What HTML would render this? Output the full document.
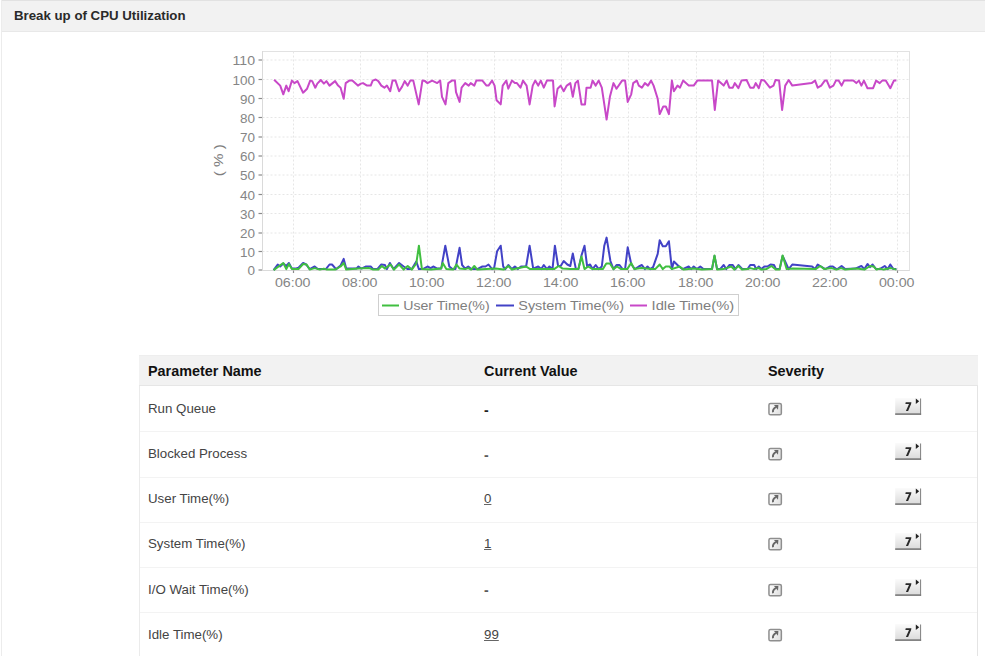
<!DOCTYPE html>
<html><head><meta charset="utf-8"><style>
html,body{margin:0;padding:0;background:#fff;}
body{width:985px;height:656px;position:relative;overflow:hidden;font-family:"Liberation Sans",sans-serif;}
.hdr{position:absolute;left:1px;top:0;width:984px;height:31px;background:#f2f2f2;border-top:1px solid #e2e2e2;border-bottom:1px solid #e8e8e8;box-sizing:border-box;height:32px;}
.lb{position:absolute;left:1px;top:0;width:1px;height:656px;background:#ececec;}
.title{position:absolute;left:14px;top:8px;font-weight:bold;font-size:13.25px;color:#2a2a2a;white-space:nowrap;}
svg.chart{position:absolute;left:0;top:0;}
.chart text{font-family:"Liberation Mono",monospace;font-size:12px;fill:#747474;}
.chart text.lg{font-family:"Liberation Sans",sans-serif;font-size:12.5px;fill:#7e7e7e;}
.chart text.ax{font-family:"Liberation Sans",sans-serif;font-size:12.2px;fill:#858585;}
.tbl{position:absolute;left:139px;top:355px;width:839px;height:301px;border-left:1px solid #ebebeb;border-right:1px solid #e4e4e4;box-sizing:border-box;}
.th{position:absolute;left:139px;top:355px;width:839px;height:31px;background:#f2f2f2;border-top:1px solid #eeeeee;border-bottom:1px solid #e6e6e6;box-sizing:border-box;}
.th span{position:absolute;top:7px;font-weight:bold;font-size:14.4px;color:#111;white-space:nowrap;}
.row{position:absolute;left:139px;width:839px;height:45px;}
.sep{position:absolute;left:140px;width:837px;height:1px;background:#f3f3f3;}
.row span{position:absolute;white-space:nowrap;}
.c1{left:9px;top:15px;font-size:13.3px;color:#444;}
.c2{left:345px;top:15px;font-size:13.3px;color:#444;}
.c2 .d{font-weight:bold;color:#222;font-size:14px;position:relative;top:0.6px;}
.c2 .d2{color:#5a5a5a;font-weight:bold;font-size:14px;position:relative;top:0.8px;}
.c2 .u{text-decoration:underline;text-decoration-color:#666;}
.c3{left:628px;top:15px;line-height:0;}
.c4{left:756px;top:12px;line-height:0;}
</style></head><body>
<div class="hdr"></div>
<div class="lb"></div>
<div class="title">Break up of CPU Utilization</div>
<svg class="chart" width="985" height="340" viewBox="0 0 985 340">
<rect x="262.5" y="51.5" width="647" height="219" fill="#fff" stroke="#e2e2e2" stroke-width="1"/>
<g stroke="#e6e6e6" stroke-width="1" stroke-dasharray="2,2"><line x1="262.5" y1="251.5" x2="909" y2="251.5"/><line x1="262.5" y1="233.0" x2="909" y2="233.0"/><line x1="262.5" y1="213.5" x2="909" y2="213.5"/><line x1="262.5" y1="194.5" x2="909" y2="194.5"/><line x1="262.5" y1="175.0" x2="909" y2="175.0"/><line x1="262.5" y1="156.0" x2="909" y2="156.0"/><line x1="262.5" y1="137.0" x2="909" y2="137.0"/><line x1="262.5" y1="117.5" x2="909" y2="117.5"/><line x1="262.5" y1="98.5" x2="909" y2="98.5"/><line x1="262.5" y1="79.5" x2="909" y2="79.5"/><line x1="262.5" y1="60.0" x2="909" y2="60.0"/><line x1="293.5" y1="51.5" x2="293.5" y2="270"/><line x1="360.5" y1="51.5" x2="360.5" y2="270"/><line x1="427.5" y1="51.5" x2="427.5" y2="270"/><line x1="494.5" y1="51.5" x2="494.5" y2="270"/><line x1="561.5" y1="51.5" x2="561.5" y2="270"/><line x1="628.5" y1="51.5" x2="628.5" y2="270"/><line x1="696.5" y1="51.5" x2="696.5" y2="270"/><line x1="763.5" y1="51.5" x2="763.5" y2="270"/><line x1="830.5" y1="51.5" x2="830.5" y2="270"/><line x1="897.5" y1="51.5" x2="897.5" y2="270"/></g>
<g stroke="#dadada" stroke-width="1"><line x1="262.5" y1="51" x2="262.5" y2="270.5"/><line x1="262" y1="270.5" x2="909.5" y2="270.5"/></g>
<g stroke="#8a8a8a" stroke-width="1.2"><line x1="258.5" y1="270.0" x2="262" y2="270.0"/><line x1="258.5" y1="251.5" x2="262" y2="251.5"/><line x1="258.5" y1="233.0" x2="262" y2="233.0"/><line x1="258.5" y1="213.5" x2="262" y2="213.5"/><line x1="258.5" y1="194.5" x2="262" y2="194.5"/><line x1="258.5" y1="175.0" x2="262" y2="175.0"/><line x1="258.5" y1="156.0" x2="262" y2="156.0"/><line x1="258.5" y1="137.0" x2="262" y2="137.0"/><line x1="258.5" y1="117.5" x2="262" y2="117.5"/><line x1="258.5" y1="98.5" x2="262" y2="98.5"/><line x1="258.5" y1="79.5" x2="262" y2="79.5"/><line x1="258.5" y1="60.0" x2="262" y2="60.0"/><line x1="293.5" y1="270.5" x2="293.5" y2="273"/><line x1="360.5" y1="270.5" x2="360.5" y2="273"/><line x1="427.5" y1="270.5" x2="427.5" y2="273"/><line x1="494.5" y1="270.5" x2="494.5" y2="273"/><line x1="561.5" y1="270.5" x2="561.5" y2="273"/><line x1="628.5" y1="270.5" x2="628.5" y2="273"/><line x1="696.5" y1="270.5" x2="696.5" y2="273"/><line x1="763.5" y1="270.5" x2="763.5" y2="273"/><line x1="830.5" y1="270.5" x2="830.5" y2="273"/><line x1="897.5" y1="270.5" x2="897.5" y2="273"/></g>
<g><text class="ax" x="255" y="275.2" text-anchor="end" textLength="7.5" lengthAdjust="spacingAndGlyphs">0</text><text class="ax" x="255" y="256.7" text-anchor="end" textLength="15.0" lengthAdjust="spacingAndGlyphs">10</text><text class="ax" x="255" y="238.2" text-anchor="end" textLength="15.0" lengthAdjust="spacingAndGlyphs">20</text><text class="ax" x="255" y="218.7" text-anchor="end" textLength="15.0" lengthAdjust="spacingAndGlyphs">30</text><text class="ax" x="255" y="199.7" text-anchor="end" textLength="15.0" lengthAdjust="spacingAndGlyphs">40</text><text class="ax" x="255" y="180.2" text-anchor="end" textLength="15.0" lengthAdjust="spacingAndGlyphs">50</text><text class="ax" x="255" y="161.2" text-anchor="end" textLength="15.0" lengthAdjust="spacingAndGlyphs">60</text><text class="ax" x="255" y="142.2" text-anchor="end" textLength="15.0" lengthAdjust="spacingAndGlyphs">70</text><text class="ax" x="255" y="122.7" text-anchor="end" textLength="15.0" lengthAdjust="spacingAndGlyphs">80</text><text class="ax" x="255" y="103.7" text-anchor="end" textLength="15.0" lengthAdjust="spacingAndGlyphs">90</text><text class="ax" x="255" y="84.7" text-anchor="end" textLength="22.5" lengthAdjust="spacingAndGlyphs">100</text><text class="ax" x="255" y="65.2" text-anchor="end" textLength="22.5" lengthAdjust="spacingAndGlyphs">110</text><text class="ax" x="292.7" y="287" text-anchor="middle" textLength="35.6" lengthAdjust="spacingAndGlyphs">06:00</text><text class="ax" x="359.7" y="287" text-anchor="middle" textLength="35.6" lengthAdjust="spacingAndGlyphs">08:00</text><text class="ax" x="426.7" y="287" text-anchor="middle" textLength="35.6" lengthAdjust="spacingAndGlyphs">10:00</text><text class="ax" x="493.7" y="287" text-anchor="middle" textLength="35.6" lengthAdjust="spacingAndGlyphs">12:00</text><text class="ax" x="560.7" y="287" text-anchor="middle" textLength="35.6" lengthAdjust="spacingAndGlyphs">14:00</text><text class="ax" x="627.7" y="287" text-anchor="middle" textLength="35.6" lengthAdjust="spacingAndGlyphs">16:00</text><text class="ax" x="695.7" y="287" text-anchor="middle" textLength="35.6" lengthAdjust="spacingAndGlyphs">18:00</text><text class="ax" x="762.7" y="287" text-anchor="middle" textLength="35.6" lengthAdjust="spacingAndGlyphs">20:00</text><text class="ax" x="829.7" y="287" text-anchor="middle" textLength="35.6" lengthAdjust="spacingAndGlyphs">22:00</text><text class="ax" x="896.7" y="287" text-anchor="middle" textLength="35.6" lengthAdjust="spacingAndGlyphs">00:00</text></g>
<text class="lg" x="0" y="0" transform="translate(223.4,160.2) rotate(-90)" text-anchor="middle" textLength="32" lengthAdjust="spacingAndGlyphs">( % )</text>
<g fill="none" stroke-width="2" stroke-linejoin="round" style="filter:blur(0.45px)">
<polyline points="274.1,79.7 280.2,85.6 283.3,94.3 286.3,85.6 288.6,91.2 291.9,80.6 294.4,83.1 297.5,81.1 303.1,92.7 307.1,88.7 310.2,80.6 312.2,81.1 315.3,87.7 317.3,83.6 320.8,80.0 323.9,83.6 326.4,81.1 329.5,85.6 335.1,81.1 338.1,85.6 340.6,87.7 343.7,98.8 345.7,83.1 349.3,80.6 352.3,80.6 357.9,85.6 360.9,83.6 363.0,83.1 367.1,85.6 370.7,85.6 372.7,80.6 375.7,79.5 378.3,81.1 381.3,85.6 384.4,87.7 386.9,85.6 390.2,91.2 392.5,80.6 395.5,80.6 399.1,91.2 402.1,86.6 404.7,81.1 407.7,85.6 410.3,80.6 413.3,80.6 418.7,104.4 422.4,80.6 425.0,81.1 427.5,83.1 432.1,80.6 437.2,83.1 440.2,80.6 442.0,96.8 445.5,104.4 448.3,83.1 451.9,80.6 454.9,80.6 456.0,92.2 459.6,101.9 461.6,87.7 465.2,83.1 468.7,85.6 470.7,83.1 474.3,85.6 476.3,80.6 482.4,80.6 486.5,85.6 488.5,85.6 492.1,80.6 494.6,85.6 496.6,100.3 500.7,104.4 502.7,85.6 506.3,80.6 508.3,88.7 511.9,80.6 514.9,83.1 516.9,83.1 520.5,87.7 523.0,80.6 526.6,85.6 529.6,104.4 532.7,85.6 535.2,80.6 538.2,85.6 540.8,80.6 543.8,87.7 546.9,80.6 553.0,80.6 554.6,106.4 557.6,88.7 560.7,85.6 563.7,91.2 566.8,85.6 570.3,83.1 572.8,96.8 575.4,83.1 577.9,80.6 581.5,104.4 585.0,104.4 586.5,87.7 590.6,87.7 592.6,80.6 595.7,85.6 598.7,80.6 601.8,87.7 606.6,119.6 609.9,96.8 613.5,83.1 616.5,88.7 622.1,80.6 625.1,80.6 627.7,101.9 631.2,94.3 633.2,83.1 636.8,80.6 638.8,85.6 641.9,87.7 644.9,83.1 648.0,85.6 651.1,80.6 653.6,85.6 657.7,98.8 659.7,114.1 663.3,106.4 665.8,106.4 668.9,114.1 671.9,80.6 673.9,91.2 677.5,85.6 680.0,87.7 683.1,80.6 688.7,85.6 693.7,85.6 697.3,80.6 712.0,80.6 714.8,110.0 718.1,80.6 723.7,85.6 726.7,80.6 729.3,87.7 732.8,87.7 734.8,83.1 738.4,88.2 741.5,80.6 746.6,80.0 750.2,87.7 753.7,87.7 755.7,83.1 758.8,88.2 761.3,80.0 764.4,80.6 769.9,87.7 773.5,85.6 775.5,80.0 779.1,80.6 782.1,110.0 785.2,85.6 788.7,80.0 792.3,85.6 811.6,83.1 815.1,80.6 817.7,87.7 821.2,85.6 824.8,80.6 826.8,80.6 829.8,87.7 833.4,85.6 835.9,80.6 838.6,80.6 841.6,85.6 844.1,80.6 853.3,80.6 856.3,83.1 858.9,80.6 861.4,85.6 863.9,80.6 867.5,88.2 873.1,88.2 876.1,80.6 879.7,83.1 882.2,80.6 885.8,80.6 890.3,88.2 893.9,80.6 896.4,80.6" stroke="#c848c8"/>
<polyline points="273.6,270.1 277.7,264.5 280.2,266.5 283.3,263.5 286.3,266.0 288.9,263.0 291.9,268.6 295.5,268.6 298.5,267.6 303.1,263.0 306.1,264.5 309.7,269.1 314.7,266.5 317.8,269.1 325.9,269.1 329.5,264.5 332.0,264.5 336.1,269.1 340.6,265.5 343.7,258.9 346.2,268.6 356.4,268.6 358.4,266.5 361.4,268.6 366.1,266.5 370.7,266.5 373.2,269.1 377.3,269.1 381.3,264.5 384.9,265.0 386.9,269.1 389.9,263.0 393.5,269.1 399.1,263.0 403.7,266.5 407.7,269.1 411.8,269.1 416.3,261.5 418.9,269.1 422.9,269.1 427.5,266.5 430.6,268.1 433.6,266.5 437.2,268.6 441.2,268.6 445.3,245.7 449.3,266.5 452.4,269.1 455.4,269.1 459.6,247.8 462.1,265.0 465.2,268.6 468.2,266.5 471.2,269.1 477.3,269.1 482.4,266.5 485.5,266.5 488.5,264.5 492.1,269.1 494.1,268.1 497.1,251.3 500.7,245.7 503.2,266.5 505.3,269.1 508.3,265.0 511.9,269.1 514.9,266.5 517.9,269.1 521.0,266.5 526.1,266.5 529.6,245.7 533.2,268.6 538.2,266.5 541.3,269.1 543.8,265.0 546.9,269.1 549.4,266.5 552.5,269.1 554.9,245.7 558.1,266.0 560.7,266.0 563.7,261.0 567.3,264.5 570.3,266.0 572.8,253.4 575.9,269.1 578.4,269.1 581.5,255.4 584.5,245.7 587.1,266.0 590.1,264.5 592.6,269.1 595.7,265.0 598.7,269.1 601.8,266.5 604.3,245.7 606.6,237.6 610.4,261.0 613.5,269.1 616.5,265.0 619.5,265.0 622.6,269.1 625.1,269.1 627.7,247.3 631.2,264.0 634.8,269.1 638.8,266.5 641.9,265.0 644.9,269.1 647.5,266.5 650.1,269.1 653.1,267.1 657.7,253.9 659.7,240.2 662.8,246.2 665.8,246.2 668.9,241.2 671.9,269.1 673.9,261.5 678.5,266.0 682.6,269.1 688.7,266.5 691.2,269.1 693.7,266.5 696.8,269.1 700.3,266.5 703.4,269.1 712.0,269.1 714.5,255.9 717.1,269.1 720.1,269.1 723.7,265.0 726.2,269.1 729.3,265.0 732.8,265.0 735.4,269.1 738.4,265.0 742.5,269.1 747.6,269.1 750.2,265.0 754.2,265.0 756.2,269.1 758.8,266.5 761.3,269.1 764.4,266.5 767.4,266.5 770.5,264.5 774.0,265.0 776.0,269.1 779.6,269.1 782.6,255.9 788.7,269.1 792.3,264.5 812.1,266.5 815.1,269.1 817.7,264.5 820.2,266.0 825.3,269.1 829.8,266.5 832.9,266.5 836.4,269.1 837.5,269.1 841.6,266.0 845.2,269.1 855.3,268.6 861.4,266.0 864.4,269.1 867.5,264.0 870.0,267.1 872.6,264.5 876.1,269.1 879.7,269.1 884.7,266.0 887.8,269.1 890.3,264.5 893.4,269.1 896.4,269.1" stroke="#4242c6"/>
<polyline points="273.6,270.1 283.3,263.0 286.3,269.1 288.9,264.0 291.9,269.1 298.5,269.1 303.1,264.0 306.6,264.5 309.7,269.6 314.7,268.1 319.8,269.6 323.9,268.6 326.9,269.6 335.1,269.6 340.6,266.5 343.7,263.0 346.2,269.6 358.4,268.6 369.1,268.1 373.2,269.6 378.3,269.6 381.8,266.0 384.9,268.6 390.5,264.5 394.0,269.6 399.1,264.5 403.7,269.6 407.7,266.0 411.8,269.6 416.3,263.5 418.9,245.7 421.9,269.1 431.1,269.6 441.2,268.6 442.7,263.0 446.3,269.1 453.4,269.6 456.5,264.5 459.6,268.6 465.2,269.1 468.2,268.1 471.2,269.6 474.3,266.0 477.3,269.6 495.6,268.6 503.7,269.6 508.3,266.0 511.9,269.6 526.1,266.5 530.1,269.1 554.1,269.1 558.6,266.0 562.7,268.6 570.3,269.1 578.4,269.1 581.5,256.4 584.5,269.1 588.1,266.5 592.6,269.1 602.8,269.1 606.3,263.5 609.9,263.5 613.5,269.1 617.0,266.5 621.1,269.1 627.2,269.1 631.2,263.0 634.3,269.1 641.4,268.1 651.1,269.1 655.2,269.1 659.7,264.5 662.8,269.1 665.8,266.5 669.4,266.5 671.9,269.1 679.5,266.5 683.6,269.6 693.7,268.6 701.9,269.6 712.0,269.1 714.5,255.4 717.1,269.6 723.7,269.1 731.3,266.5 734.3,269.6 738.4,266.0 742.0,269.6 747.6,269.1 750.2,268.1 754.2,269.1 758.8,268.1 761.3,269.6 766.4,269.1 771.5,266.0 776.0,269.6 779.6,269.6 782.6,255.4 786.7,269.1 792.8,268.6 815.6,269.1 820.2,266.0 824.3,269.1 831.4,268.1 836.4,269.6 841.1,268.1 845.2,269.6 856.3,268.6 860.4,269.1 864.4,269.6 870.0,266.0 873.6,266.5 876.6,269.6 879.7,268.6 883.7,269.6 890.8,268.1 896.4,269.6" stroke="#40bf40"/>
</g>
<rect x="378.5" y="294.5" width="360" height="21" fill="#fff" stroke="#cfcfcf"/>
<line x1="382" y1="305.5" x2="399" y2="305.5" stroke="#40bf40" stroke-width="2"/>
<text class="lg" x="403.2" y="310" textLength="86.5" lengthAdjust="spacingAndGlyphs">User Time(%)</text>
<line x1="496" y1="305.5" x2="514" y2="305.5" stroke="#4242c6" stroke-width="2"/>
<text class="lg" x="518.3" y="310" textLength="105.7" lengthAdjust="spacingAndGlyphs">System Time(%)</text>
<line x1="630" y1="305.5" x2="647" y2="305.5" stroke="#c848c8" stroke-width="2"/>
<text class="lg" x="651.6" y="310" textLength="82.6" lengthAdjust="spacingAndGlyphs">Idle Time(%)</text>
</svg>
<div class="tbl"></div>
<div class="th"><span style="left:9px">Parameter Name</span><span style="left:345px">Current Value</span><span style="left:629px">Severity</span></div>
<div class="row" style="top:386.00px"><span class="c1">Run Queue</span><span class="c2"><span class="d">-</span></span><span class="c3"><svg width="17" height="16" viewBox="0 0 17 16"><defs><linearGradient id="g1" x1="0" y1="0" x2="1" y2="0.6"><stop offset="0" stop-color="#ffffff"/><stop offset="1" stop-color="#e2e2e2"/></linearGradient></defs><rect x="1.95" y="2.45" width="12.4" height="11.4" rx="1.6" fill="url(#g1)" stroke="#8e8e8e" stroke-width="1.5"/><path d="M6.0 11.3 C5.6 9.2 6.3 7.6 8.9 6.0" fill="none" stroke="#666" stroke-width="1.9"/><path d="M7.0 4.1 L11.4 3.9 L11.0 8.7 Z" fill="#666"/></svg></span><span class="c4"><svg width="27" height="18" viewBox="0 0 27 18"><defs><linearGradient id="g2" x1="0" y1="0" x2="0" y2="1"><stop offset="0" stop-color="#fbfbfb"/><stop offset="1" stop-color="#d9d9d9"/></linearGradient></defs><rect x="0.2" y="0" width="25.8" height="17" fill="url(#g2)"/><rect x="25" y="0.5" width="1.1" height="16.5" fill="#8a8a8a"/><rect x="0.2" y="15.3" width="25.9" height="1.6" fill="#7a7a7a"/><path d="M10.7 4.3 L16.4 4.3 L16.1 6.1 L13.1 12.9 L10.9 12.9 L14.0 6.1 L10.4 6.1 Z" fill="#2a2a2a"/><path d="M20.8 0.5 L24.2 3.3 L20.8 6.1 Z" fill="#222"/></svg></span></div>
<div class="row" style="top:431.15px"><span class="c1">Blocked Process</span><span class="c2"><span class="d2">-</span></span><span class="c3"><svg width="17" height="16" viewBox="0 0 17 16"><defs><linearGradient id="g1" x1="0" y1="0" x2="1" y2="0.6"><stop offset="0" stop-color="#ffffff"/><stop offset="1" stop-color="#e2e2e2"/></linearGradient></defs><rect x="1.95" y="2.45" width="12.4" height="11.4" rx="1.6" fill="url(#g1)" stroke="#8e8e8e" stroke-width="1.5"/><path d="M6.0 11.3 C5.6 9.2 6.3 7.6 8.9 6.0" fill="none" stroke="#666" stroke-width="1.9"/><path d="M7.0 4.1 L11.4 3.9 L11.0 8.7 Z" fill="#666"/></svg></span><span class="c4"><svg width="27" height="18" viewBox="0 0 27 18"><defs><linearGradient id="g2" x1="0" y1="0" x2="0" y2="1"><stop offset="0" stop-color="#fbfbfb"/><stop offset="1" stop-color="#d9d9d9"/></linearGradient></defs><rect x="0.2" y="0" width="25.8" height="17" fill="url(#g2)"/><rect x="25" y="0.5" width="1.1" height="16.5" fill="#8a8a8a"/><rect x="0.2" y="15.3" width="25.9" height="1.6" fill="#7a7a7a"/><path d="M10.7 4.3 L16.4 4.3 L16.1 6.1 L13.1 12.9 L10.9 12.9 L14.0 6.1 L10.4 6.1 Z" fill="#2a2a2a"/><path d="M20.8 0.5 L24.2 3.3 L20.8 6.1 Z" fill="#222"/></svg></span></div>
<div class="row" style="top:476.30px"><span class="c1">User Time(%)</span><span class="c2"><span class="u">0</span></span><span class="c3"><svg width="17" height="16" viewBox="0 0 17 16"><defs><linearGradient id="g1" x1="0" y1="0" x2="1" y2="0.6"><stop offset="0" stop-color="#ffffff"/><stop offset="1" stop-color="#e2e2e2"/></linearGradient></defs><rect x="1.95" y="2.45" width="12.4" height="11.4" rx="1.6" fill="url(#g1)" stroke="#8e8e8e" stroke-width="1.5"/><path d="M6.0 11.3 C5.6 9.2 6.3 7.6 8.9 6.0" fill="none" stroke="#666" stroke-width="1.9"/><path d="M7.0 4.1 L11.4 3.9 L11.0 8.7 Z" fill="#666"/></svg></span><span class="c4"><svg width="27" height="18" viewBox="0 0 27 18"><defs><linearGradient id="g2" x1="0" y1="0" x2="0" y2="1"><stop offset="0" stop-color="#fbfbfb"/><stop offset="1" stop-color="#d9d9d9"/></linearGradient></defs><rect x="0.2" y="0" width="25.8" height="17" fill="url(#g2)"/><rect x="25" y="0.5" width="1.1" height="16.5" fill="#8a8a8a"/><rect x="0.2" y="15.3" width="25.9" height="1.6" fill="#7a7a7a"/><path d="M10.7 4.3 L16.4 4.3 L16.1 6.1 L13.1 12.9 L10.9 12.9 L14.0 6.1 L10.4 6.1 Z" fill="#2a2a2a"/><path d="M20.8 0.5 L24.2 3.3 L20.8 6.1 Z" fill="#222"/></svg></span></div>
<div class="row" style="top:521.45px"><span class="c1">System Time(%)</span><span class="c2"><span class="u">1</span></span><span class="c3"><svg width="17" height="16" viewBox="0 0 17 16"><defs><linearGradient id="g1" x1="0" y1="0" x2="1" y2="0.6"><stop offset="0" stop-color="#ffffff"/><stop offset="1" stop-color="#e2e2e2"/></linearGradient></defs><rect x="1.95" y="2.45" width="12.4" height="11.4" rx="1.6" fill="url(#g1)" stroke="#8e8e8e" stroke-width="1.5"/><path d="M6.0 11.3 C5.6 9.2 6.3 7.6 8.9 6.0" fill="none" stroke="#666" stroke-width="1.9"/><path d="M7.0 4.1 L11.4 3.9 L11.0 8.7 Z" fill="#666"/></svg></span><span class="c4"><svg width="27" height="18" viewBox="0 0 27 18"><defs><linearGradient id="g2" x1="0" y1="0" x2="0" y2="1"><stop offset="0" stop-color="#fbfbfb"/><stop offset="1" stop-color="#d9d9d9"/></linearGradient></defs><rect x="0.2" y="0" width="25.8" height="17" fill="url(#g2)"/><rect x="25" y="0.5" width="1.1" height="16.5" fill="#8a8a8a"/><rect x="0.2" y="15.3" width="25.9" height="1.6" fill="#7a7a7a"/><path d="M10.7 4.3 L16.4 4.3 L16.1 6.1 L13.1 12.9 L10.9 12.9 L14.0 6.1 L10.4 6.1 Z" fill="#2a2a2a"/><path d="M20.8 0.5 L24.2 3.3 L20.8 6.1 Z" fill="#222"/></svg></span></div>
<div class="row" style="top:566.60px"><span class="c1">I/O Wait Time(%)</span><span class="c2"><span class="d2">-</span></span><span class="c3"><svg width="17" height="16" viewBox="0 0 17 16"><defs><linearGradient id="g1" x1="0" y1="0" x2="1" y2="0.6"><stop offset="0" stop-color="#ffffff"/><stop offset="1" stop-color="#e2e2e2"/></linearGradient></defs><rect x="1.95" y="2.45" width="12.4" height="11.4" rx="1.6" fill="url(#g1)" stroke="#8e8e8e" stroke-width="1.5"/><path d="M6.0 11.3 C5.6 9.2 6.3 7.6 8.9 6.0" fill="none" stroke="#666" stroke-width="1.9"/><path d="M7.0 4.1 L11.4 3.9 L11.0 8.7 Z" fill="#666"/></svg></span><span class="c4"><svg width="27" height="18" viewBox="0 0 27 18"><defs><linearGradient id="g2" x1="0" y1="0" x2="0" y2="1"><stop offset="0" stop-color="#fbfbfb"/><stop offset="1" stop-color="#d9d9d9"/></linearGradient></defs><rect x="0.2" y="0" width="25.8" height="17" fill="url(#g2)"/><rect x="25" y="0.5" width="1.1" height="16.5" fill="#8a8a8a"/><rect x="0.2" y="15.3" width="25.9" height="1.6" fill="#7a7a7a"/><path d="M10.7 4.3 L16.4 4.3 L16.1 6.1 L13.1 12.9 L10.9 12.9 L14.0 6.1 L10.4 6.1 Z" fill="#2a2a2a"/><path d="M20.8 0.5 L24.2 3.3 L20.8 6.1 Z" fill="#222"/></svg></span></div>
<div class="row" style="top:611.75px"><span class="c1">Idle Time(%)</span><span class="c2"><span class="u">99</span></span><span class="c3"><svg width="17" height="16" viewBox="0 0 17 16"><defs><linearGradient id="g1" x1="0" y1="0" x2="1" y2="0.6"><stop offset="0" stop-color="#ffffff"/><stop offset="1" stop-color="#e2e2e2"/></linearGradient></defs><rect x="1.95" y="2.45" width="12.4" height="11.4" rx="1.6" fill="url(#g1)" stroke="#8e8e8e" stroke-width="1.5"/><path d="M6.0 11.3 C5.6 9.2 6.3 7.6 8.9 6.0" fill="none" stroke="#666" stroke-width="1.9"/><path d="M7.0 4.1 L11.4 3.9 L11.0 8.7 Z" fill="#666"/></svg></span><span class="c4"><svg width="27" height="18" viewBox="0 0 27 18"><defs><linearGradient id="g2" x1="0" y1="0" x2="0" y2="1"><stop offset="0" stop-color="#fbfbfb"/><stop offset="1" stop-color="#d9d9d9"/></linearGradient></defs><rect x="0.2" y="0" width="25.8" height="17" fill="url(#g2)"/><rect x="25" y="0.5" width="1.1" height="16.5" fill="#8a8a8a"/><rect x="0.2" y="15.3" width="25.9" height="1.6" fill="#7a7a7a"/><path d="M10.7 4.3 L16.4 4.3 L16.1 6.1 L13.1 12.9 L10.9 12.9 L14.0 6.1 L10.4 6.1 Z" fill="#2a2a2a"/><path d="M20.8 0.5 L24.2 3.3 L20.8 6.1 Z" fill="#222"/></svg></span></div>
<div class="sep" style="top:431.40px"></div><div class="sep" style="top:476.55px"></div><div class="sep" style="top:521.70px"></div><div class="sep" style="top:566.85px"></div><div class="sep" style="top:612.00px"></div>
</body></html>
